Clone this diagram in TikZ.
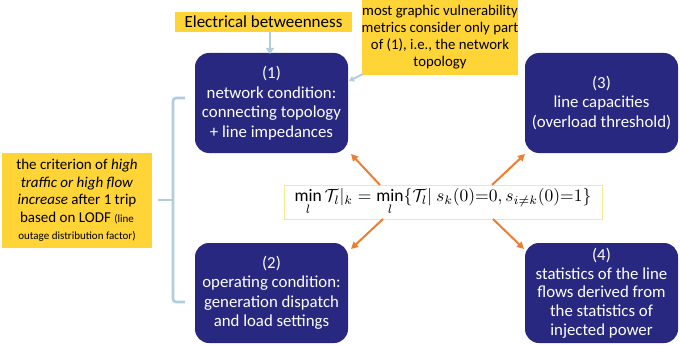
\documentclass[tikz,border=0pt]{standalone}
\usepackage{fontspec}
\setmainfont{Carlito}
\usetikzlibrary{arrows.meta,calc}
\definecolor{navy}{RGB}{40,40,128}
\definecolor{ylw}{RGB}{255,212,55}
\definecolor{ltblue}{RGB}{176,206,222}
\definecolor{orng}{RGB}{237,125,49}
\definecolor{fborder}{RGB}{245,235,140}
\tikzset{
  navybox/.style={draw=none,fill=navy,rounded corners=14pt,text=white,align=center,
    minimum width=153pt,minimum height=100pt,inner sep=0pt,
    font=\fontsize{16.8}{19.5}\selectfont},
  ylwbox/.style={fill=ylw,draw=none,align=center,inner sep=0pt,text=black},
  bluecon/.style={draw=ltblue,line width=2.6pt},
  orangearrow/.style={draw=orng,line width=2pt,-{Triangle[length=7pt,width=7pt]}},
}
\begin{document}
\begin{tikzpicture}[x=1pt,y=-1pt]
\useasboundingbox (0,0) rectangle (680,345);
% navy boxes
\node[navybox] (b1) at (271.5,103) {(1)\\network condition:\\connecting topology\\+ line impedances};
\node[navybox] (b3) at (601.5,103) {(3)\\line capacities\\(overload threshold)};
\node[navybox] (b2) at (271.5,293) {(2)\\operating condition:\\generation dispatch\\and load settings};
\node[navybox,font=\fontsize{16.8}{18.7}\selectfont] (b4) at (601.5,293) {(4)\\statistics of the line\\flows derived from\\the statistics of\\injected power};
% yellow notes
\node[ylwbox,minimum width=177pt,minimum height=20pt,font=\fontsize{17}{18}\selectfont] (eb) at (263.5,22) {Electrical betweenness};
\node[ylwbox,minimum width=156pt,minimum height=75pt,font=\fontsize{14.8}{17}\selectfont] (mg) at (440,37.5) {most graphic vulnerability\\metrics consider only part\\of (1), i.e., the network\\topology};
\node[ylwbox,minimum width=150pt,minimum height=95pt,font=\fontsize{15}{17.5}\selectfont] (cr) at (77,200.5) {the criterion of \textit{high}\\\textit{traffic or high flow}\\\textit{increase} after 1 trip\\based on LODF {\fontsize{11}{17.5}\selectfont(line}\\{\fontsize{11}{17.5}\selectfont outage distribution factor)}};
% formula
\node[draw=fborder,line width=0.8pt,fill=white,minimum width=318pt,minimum height=34pt,inner sep=0pt] (f) at (443,202)
  {\scalebox{1.75}{$\min\limits_l \mathcal{T}_l|_k = \min\limits_l\{\mathcal{T}_l|\ s_k(0){=}0, s_{i\neq k}(0){=}1\}$}};
% light blue connectors
\coordinate (ebt) at (270,32);
\coordinate (b1t) at (270,54);
\draw[bluecon,-{Triangle[length=6pt,width=8pt]}] (ebt) -- (b1t);
\coordinate (mgs) at (363,74);
\coordinate (b1r) at (349,81);
\draw[bluecon,line width=2pt,-{Triangle[length=5pt,width=6pt]}] (mgs) -- (b1r);
% bracket
\coordinate (brt) at (185,98);
\coordinate (brb) at (185,302);
\coordinate (brm) at (158,200);
\draw[bluecon,rounded corners=3pt] (brt) -- (173,98) -- (173,302) -- (brb);
\draw[bluecon] (173,200) -- (brm);
% orange arrows
\coordinate (f1) at (380,185);
\coordinate (f2) at (492,185);
\coordinate (f3) at (383,219);
\coordinate (f4) at (493,219);
\coordinate (t1) at (351,154);
\coordinate (t2) at (525,154);
\coordinate (t3) at (351,249);
\coordinate (t4) at (524,249);
\draw[orangearrow] (f1) -- (t1);
\draw[orangearrow] (f2) -- (t2);
\draw[orangearrow] (f3) -- (t3);
\draw[orangearrow] (f4) -- (t4);
\end{tikzpicture}
\end{document}
